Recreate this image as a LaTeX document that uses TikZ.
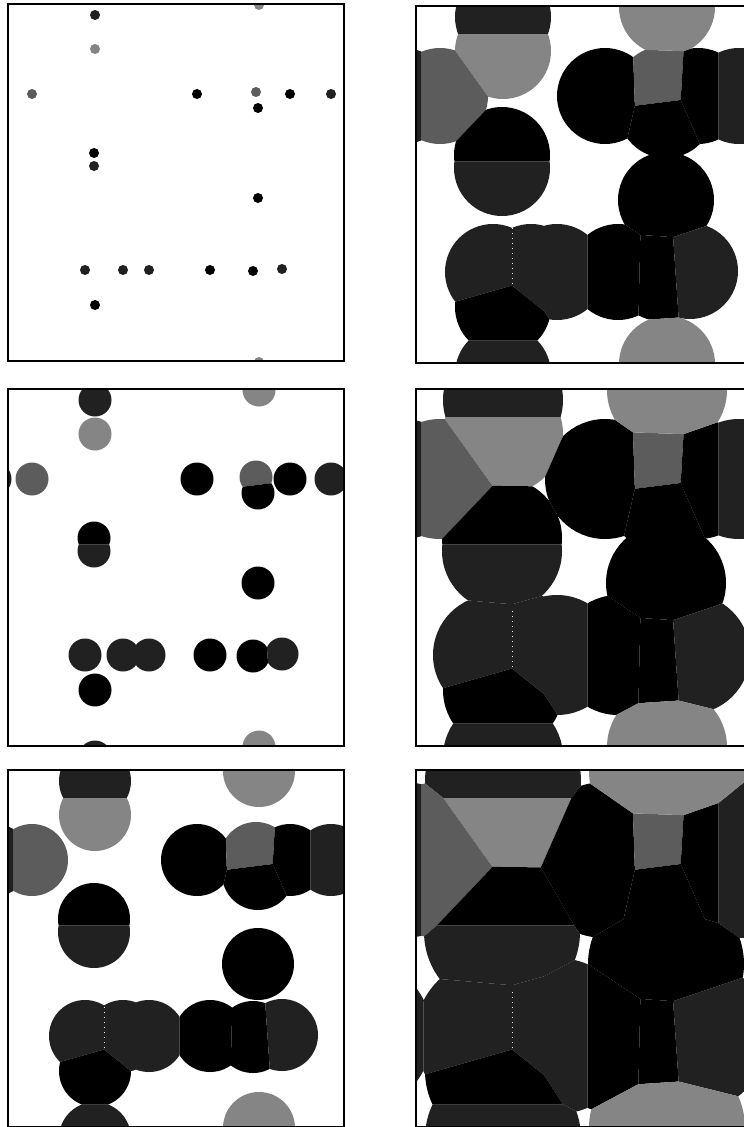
\documentclass[tikz,border=0pt]{standalone}
\usetikzlibrary{calc}
\colorlet{Solid}{black}
\colorlet{Dusk}{black!87}
\colorlet{Smoke}{black!64}
\colorlet{Haze}{black!48}

% grain centres inside one cell (x/y from the cell's top left) and their shade
\def\grains{87/11/Dusk, 87/45/Haze, 24/90/Smoke, 189/90/Solid, 248/88/Smoke,
  250/104/Solid, 282/90/Solid, 323/90/Dusk, 86/149/Solid, 86/162/Dusk,
  250/194/Solid, 77/266/Dusk, 115/266/Dusk, 141/266/Dusk, 202/266/Solid,
  245/267/Solid, 274/265/Dusk, 87/301/Solid, 251/1/Haze}
\def\panelW{336}
\def\panelH{357}

% one snapshot: periodic cell at (#1,#2), every grain grown to radius #3
\newcommand\growpanel[3]{%
  \begin{scope}[shift={(#1,#2)}]
    \clip (0,0) rectangle (\panelW,\panelH);
    \foreach \gx/\gy/\gc in \grains {
      \foreach \dx in {-1,0,1} {
        \foreach \dy in {-1,0,1} {
          \pgfmathsetmacro\cx{\gx+\dx*\panelW}
          \pgfmathsetmacro\cy{\gy+\dy*\panelH}
          \pgfmathtruncatemacro\seen{(\cx>-#3)&&(\cx<\panelW+#3)&&(\cy>-#3)&&(\cy<\panelH+#3)}
          \ifnum\seen=1
            \begin{scope}
              % keep only the part nearer to this grain than to its neighbours
              \foreach \hx/\hy/\hc in \grains {
                \foreach \ex in {-1,0,1} {
                  \foreach \ey in {-1,0,1} {
                    \pgfmathsetmacro\qx{\hx+\ex*\panelW}
                    \pgfmathsetmacro\qy{\hy+\ey*\panelH}
                    \pgfmathsetmacro\dd{veclen(\cx-\qx,\cy-\qy)}
                    \pgfmathtruncatemacro\near{(\dd>0.5)&&(\dd<2*#3)}
                    \ifnum\near=1
                      \pgfmathsetmacro\ux{(\cx-\qx)/\dd}
                      \pgfmathsetmacro\uy{(\cy-\qy)/\dd}
                      \pgfmathsetmacro\mx{(\cx+\qx)/2}
                      \pgfmathsetmacro\my{(\cy+\qy)/2}
                      \clip ({\mx-600*\uy},{\my+600*\ux}) -- ({\mx+600*\uy},{\my-600*\ux})
                        -- ({\mx+600*\ux},{\my+600*\uy}) -- cycle;
                    \fi
                  }
                }
              }
              \fill[\gc] (\cx,\cy) circle[radius=#3];
            \end{scope}
          \fi
        }
      }
    }
    % faint seam between the two left grains of the lower row
    \ifdim #3pt>30pt
      \draw[seam] (96,222) -- (96,278);
    \fi
  \end{scope}
  \draw[frame] (#1,#2) rectangle ++(\panelW,\panelH);
}

\begin{document}
\begin{tikzpicture}[x=1pt,y=-1pt,
    frame/.style={draw=black,line width=1.6pt},
    seam/.style={white,line width=0.9pt,dash pattern=on 1pt off 4pt}]
  \useasboundingbox (0,0) rectangle (744,1127);
  \fill[white] (0,0) rectangle (744,1127);

  % left column
  \growpanel{8}{4}{5}
  \growpanel{8}{389}{16.5}
  \growpanel{8}{770}{36}
  % right column
  \growpanel{416}{6}{48}
  \growpanel{416}{389}{60}
  \growpanel{416}{770}{78}
\end{tikzpicture}
\end{document}
